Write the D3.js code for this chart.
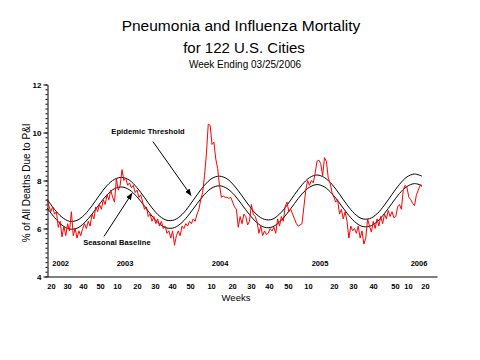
<!DOCTYPE html>
<html><head><meta charset="utf-8">
<script src="https://cdn.jsdelivr.net/npm/d3@7"></script>
<style>
html,body{margin:0;padding:0;background:#fff;}
svg{display:block;font-family:"Liberation Sans",Arial,sans-serif;}
</style></head>
<body><svg id="c" width="480" height="360"></svg>
<script>
// ---- data ----
const titleLines = ["Pneumonia and Influenza Mortality", "for 122 U.S. Cities", "Week Ending 03/25/2006"];
// weekly % P&I, starting 2002 week ~20 (index 0) through 2006 week 12
const piPercent = [
 7.2, 6.95, 6.7, 6.9, 6.6, 6.7, 6.05, 6.3, 5.65, 6.1, 5.7,
 6.2, 5.9, 6.7, 5.7, 6.0, 5.6, 5.9, 5.7, 6.0, 6.2,
 6.0, 6.3, 6.1, 6.6, 6.4, 6.9, 6.7, 7.0, 6.8, 7.2,
 7.0, 7.4, 7.2, 7.6, 7.3, 7.1, 8.1, 7.6, 7.8, 8.45,
 8.0, 8.1, 7.8, 7.9, 7.7, 7.8, 7.5, 7.6, 7.3, 7.4,
 7.1, 6.8, 6.9, 6.5, 6.6, 6.3, 6.5, 6.2, 6.4, 6.1,
 6.3, 6.0, 6.1, 5.8, 5.9, 5.6, 5.9, 5.3, 5.7, 5.9,
 5.7, 6.1, 6.0, 6.2, 6.1, 6.3, 6.2, 6.4, 6.3, 6.6,
 6.8, 7.2, 7.5, 8.2, 9.1, 10.35, 10.3, 9.5, 9.6, 8.9,
 8.5, 7.8, 7.3, 7.35, 7.3, 7.3, 7.25, 7.3, 7.1, 6.9,
 6.8, 6.05, 6.5, 6.2, 6.6, 6.5, 6.15, 6.3, 7.0, 6.6,
 6.5, 6.3, 5.8, 6.1, 5.7, 5.9, 5.75, 5.8, 6.0, 5.9,
 6.05, 5.8, 6.4, 6.1, 6.5, 6.3, 6.9, 7.1, 6.7, 6.8,
 6.6, 6.4, 6.2, 6.1, 6.15, 6.2, 6.9, 7.6, 8.0, 7.8,
 8.0, 7.9, 8.3, 8.8, 8.85, 8.7, 8.2, 8.95, 8.8, 8.1,
 7.9, 7.5, 7.3, 7.1, 7.2, 6.6, 6.8, 6.4, 6.7, 6.3,
 5.6, 6.1, 5.9, 6.0, 5.8, 6.1, 5.6, 5.9, 5.35, 5.6,
 6.4, 6.1, 5.85, 6.3, 6.0, 6.4, 6.1, 6.5, 6.2, 6.6,
 6.4, 6.75, 6.5, 6.7, 6.45, 6.5, 6.9, 7.0, 6.8, 7.6,
 7.8, 7.7, 7.3, 7.2, 7.05, 6.95, 7.4, 7.6, 7.8, 7.75
];
// seasonal baseline and epidemic threshold, read every 4 weeks
const curveStep = 4;
const seasonalBaseline = [
 6.86, 6.46, 6.14, 5.98, 6.01, 6.24, 6.60, 7.02, 7.40, 7.66,
 7.73, 7.61, 7.32, 6.93, 6.52, 6.19, 6.02, 6.04, 6.25, 6.61,
 7.03, 7.42, 7.69, 7.78, 7.67, 7.39, 6.99, 6.58, 6.24, 6.05,
 6.06, 6.27, 6.62, 7.04, 7.44, 7.72, 7.83, 7.73, 7.45, 7.06,
 6.64, 6.29, 6.09, 6.09, 6.28, 6.63, 7.05, 7.46, 7.75, 7.87, 7.79
];
const epidemicThreshold = [
 7.22, 6.80, 6.47, 6.30, 6.34, 6.57, 6.95, 7.39, 7.79, 8.05,
 8.13, 8.01, 7.70, 7.29, 6.86, 6.52, 6.34, 6.36, 6.58, 6.96,
 7.40, 7.80, 8.09, 8.18, 8.07, 7.77, 7.36, 6.93, 6.57, 6.38,
 6.38, 6.60, 6.97, 7.41, 7.82, 8.12, 8.23, 8.12, 7.84, 7.43,
 6.99, 6.62, 6.41, 6.41, 6.61, 6.98, 7.42, 7.84, 8.15, 8.27, 8.18
];
// x tick labels (MMWR week) and their positions in week-index units
const weekTickLabels = ["20","30","40","50","10","20","30","40","50","10","20","30","40","50","10","20","30","40","50","10","20"];
const weekTickPos = [2.1,10.7,19.2,28.3,37.3,48,57.6,66.7,76.3,87.5,98.7,108.8,118.4,128.5,139.2,153,163.2,173.9,185.6,192.5,201.6];
const yearLabels = ["2002","2003","2004","2005","2006"];
const yearPos = [7.3,41.6,92.3,145.6,198.4];
const yTicks = [4,6,8,10,12];
const annotations = [
 {text:"Epidemic Threshold", tx:53.9, ty:9.92, x1:56.5, y1:9.62, x2:76.8, y2:7.38},
 {text:"Seasonal Baseline", tx:37.3, ty:5.30, x1:30.4, y1:5.67, x2:45.3, y2:7.46}
];

// ---- drawing ----
const svg = d3.select("#c");
const x = d3.scaleLinear().domain([0, 208]).range([47, 437]);
const y = d3.scaleLinear().domain([4, 12]).range([276.5, 84.5]);

// title
const tY = [31, 53, 68], tS = [15.5, 15, 10], tX = [241, 244, 245];
titleLines.forEach((t,i)=>{
  svg.append("text").attr("x",tX[i]).attr("y",tY[i]).attr("text-anchor","middle")
    .attr("font-size",tS[i]).attr("fill","#000").text(t);
});

// y axis major + minor ticks
const gy = svg.append("g").attr("transform","translate(47.5,0)");
gy.call(d3.axisLeft(y).tickValues(yTicks).tickSize(4).tickSizeOuter(0).tickPadding(2).tickFormat(d3.format("d")));
gy.selectAll("text").attr("font-size",8).attr("font-weight","bold").attr("font-family","Liberation Sans, Arial, sans-serif");
const gym = svg.append("g").attr("transform","translate(47.5,0)");
gym.call(d3.axisLeft(y).tickValues(d3.range(4, 12.001, 0.2)).tickSize(2).tickSizeOuter(0).tickFormat(""));
gym.select(".domain").remove();
svg.selectAll(".tick line").attr("stroke","#000");

// x axis
const gx = svg.append("g").attr("transform","translate(0,276.5)");
gx.call(d3.axisBottom(x).tickValues(weekTickPos).tickSize(0).tickSizeOuter(0).tickPadding(7)
  .tickFormat((d,i)=>weekTickLabels[i]));
gx.selectAll("text").attr("font-size",7.5).attr("font-weight","bold").attr("font-family","Liberation Sans, Arial, sans-serif");
gx.select(".domain").attr("stroke-width",1.2);
svg.selectAll(".domain").attr("stroke","#000");

// year labels
svg.append("g").selectAll("text").data(yearLabels).join("text")
  .attr("x",(d,i)=>x(yearPos[i])).attr("y",y(4.45)).attr("text-anchor","middle")
  .attr("font-size",7.5).attr("font-weight","bold").text(d=>d);

// axis titles
svg.append("text").attr("transform",`translate(30,${y(7.9)}) rotate(-90)`).attr("text-anchor","middle")
  .attr("font-size",10).text("% of All Deaths Due to P&I");
svg.append("text").attr("x",236).attr("y",301).attr("text-anchor","middle").attr("font-size",9.5).text("Weeks");

// curves
const smooth = d3.line().x((d,i)=>x(i*curveStep)).y(d=>y(d)).curve(d3.curveCatmullRom);
svg.append("path").datum(epidemicThreshold).attr("d",smooth).attr("fill","none").attr("stroke","#000").attr("stroke-width",1);
svg.append("path").datum(seasonalBaseline).attr("d",smooth).attr("fill","none").attr("stroke","#000").attr("stroke-width",1);

const pline = d3.line().x((d,i)=>x(i)).y(d=>y(d));
svg.append("path").datum(piPercent).attr("d",pline).attr("fill","none").attr("stroke","#ff0000").attr("stroke-width",1);

// annotations
svg.append("defs").append("marker").attr("id","ah").attr("viewBox","0 0 10 10").attr("refX",9).attr("refY",5)
  .attr("markerWidth",7).attr("markerHeight",7).attr("markerUnits","userSpaceOnUse").attr("orient","auto")
  .append("path").attr("d","M0,1 L10,5 L0,9 Z").attr("fill","#000");
annotations.forEach(a=>{
  svg.append("line").attr("x1",x(a.x1)).attr("y1",y(a.y1)).attr("x2",x(a.x2)).attr("y2",y(a.y2))
    .attr("stroke","#000").attr("stroke-width",1).attr("marker-end","url(#ah)");
  svg.append("text").attr("x",x(a.tx)).attr("y",y(a.ty)).attr("text-anchor","middle")
    .attr("font-size",7.5).attr("font-weight","bold").attr("letter-spacing",0.1).text(a.text);
});
</script></body></html>
